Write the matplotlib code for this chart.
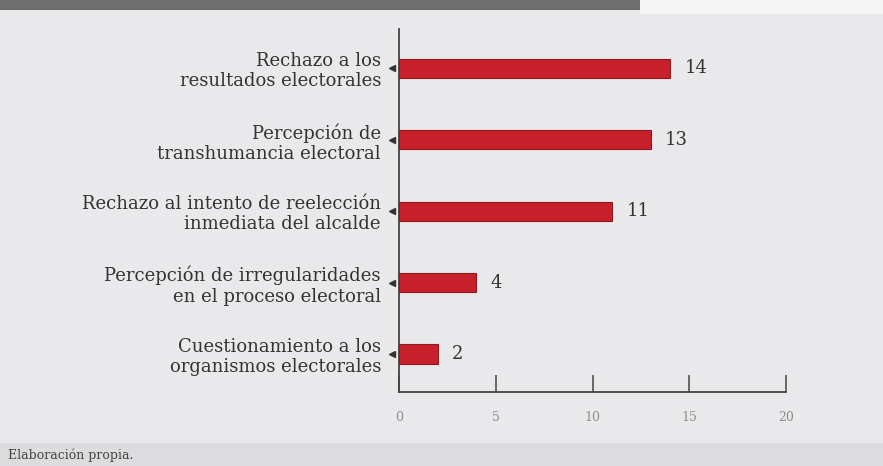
import matplotlib.pyplot as plt
from matplotlib.patches import Rectangle

# data
categorias = [
    'Cuestionamiento a los\norganismos electorales',
    'Percepción de irregularidades\nen el proceso electoral',
    'Rechazo al intento de reelección\ninmediata del alcalde',
    'Percepción de\ntranshumancia electoral',
    'Rechazo a los\nresultados electorales',
]
valores = [2, 4, 11, 13, 14]
x_ticks = [0, 5, 10, 15, 20]

fondo = '#e9e9ec'
rojo = '#c8202b'
texto = '#333333'

fig = plt.figure(figsize=(8.83, 4.66), dpi=100)
fig.patch.set_facecolor(fondo)

# top strip (dark header band) and white margin on the right
fig.patches.append(Rectangle((0, 1 - 10 / 466), 640 / 883, 10 / 466, transform=fig.transFigure,
                             facecolor='#6e6e6e', edgecolor='none', zorder=0))
fig.patches.append(Rectangle((640 / 883, 1 - 14 / 466), 243 / 883, 14 / 466, transform=fig.transFigure,
                             facecolor='#f5f5f5', edgecolor='none', zorder=0))
# bottom band with the source note
fig.patches.append(Rectangle((0, 0), 1, 23 / 466, transform=fig.transFigure,
                             facecolor='#dcdcdf', edgecolor='none', zorder=0))
fig.text(8 / 883, 11 / 466, 'Elaboración propia.', fontsize=9, color='#444444',
         family='DejaVu Serif', va='center', ha='left')

ax = fig.add_axes([399 / 883, 1 - 392 / 466, 387 / 883, 363 / 466])
ax.set_facecolor('none')

pos = list(range(len(categorias)))
ax.barh(pos, valores, height=0.27, color=rojo, edgecolor='#8e1a1f', linewidth=0.8, zorder=3)

for p, v in zip(pos, valores):
    ax.text(v + 0.75, p, str(v), va='center', ha='left', fontsize=13,
            color=texto, family='DejaVu Serif')

# little triangle markers left of the axis
ax.plot([-0.36] * len(pos), pos, marker='<', markersize=4, linestyle='none',
        color=texto, clip_on=False, zorder=4)

ax.set_xlim(0, 20)
ax.set_ylim(-0.53, 4.55)
ax.set_xticks(x_ticks)
ax.set_yticks(pos)
ax.set_yticklabels(categorias, fontsize=13, color=texto, family='DejaVu Serif',
                   linespacing=1.15)

ax.tick_params(axis='x', direction='in', length=12, width=1.1, color='#444444',
               labelsize=9, labelcolor='#8e8e8e', pad=14)
for lab in ax.get_xticklabels():
    lab.set_family('DejaVu Serif')
ax.tick_params(axis='y', length=0, pad=13)

for s in ['top', 'right']:
    ax.spines[s].set_visible(False)
for s in ['left', 'bottom']:
    ax.spines[s].set_color('#444444')
    ax.spines[s].set_linewidth(1.3)

fig.savefig('out.png', dpi=100, facecolor=fig.get_facecolor())
